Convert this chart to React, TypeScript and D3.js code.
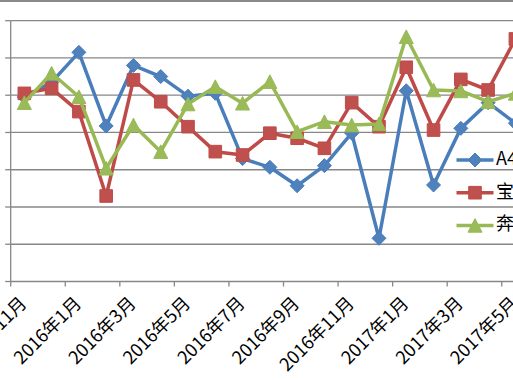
import React from "react";
import * as d3 from "d3";

const categories = [
  "2015年11月", "2015年12月", "2016年1月", "2016年2月", "2016年3月", "2016年4月",
  "2016年5月", "2016年6月", "2016年7月", "2016年8月", "2016年9月", "2016年10月",
  "2016年11月", "2016年12月", "2017年1月", "2017年2月", "2017年3月", "2017年4月",
  "2017年5月",
];

const seriesA4L = [9900, 10700, 12300, 8350, 11600, 11000, 9950, 10100, 6600, 6130, 5140, 6220, 7960, 2320, 10240, 5180, 8220, 9600, 8500];
const seriesBMW5 = [10100, 10370, 9120, 4590, 10820, 9650, 8310, 6970, 6790, 7960, 7690, 7150, 9600, 8310, 11500, 8130, 10850, 10280, 13020];
const seriesBenzE = [9600, 11180, 9920, 6080, 8400, 6970, 9530, 10460, 9570, 10730, 8040, 8580, 8400, 8460, 13140, 10280, 10230, 9650, 10100];

const seriesNames = ["A4L", "宝马5系", "奔驰E级"];
const yTicks = [0, 2000, 4000, 6000, 8000, 10000, 12000, 14000];

const W = 513;
const H = 380;

const lineColors = ["#4A7EBB", "#BE4B48", "#98B954"];
const fillColors = ["#4F81BD", "#C0504D", "#9BBB59"];
const markerTypes = ["diamond", "square", "triangle"];

function markerPath(type: string, cx: number, cy: number): string {
  if (type === "diamond") {
    const r = 7;
    return `M${cx},${cy - r}L${cx + r},${cy}L${cx},${cy + r}L${cx - r},${cy}Z`;
  }
  if (type === "square") {
    const s = 6.3;
    return `M${cx - s},${cy - s}L${cx + s},${cy - s}L${cx + s},${cy + s}L${cx - s},${cy + s}Z`;
  }
  const h = 6.8;
  const w = 7;
  return `M${cx},${cy - h}L${cx + w},${cy + h}L${cx - w},${cy + h}Z`;
}

export default function App() {
  const series = [seriesA4L, seriesBMW5, seriesBenzE];
  const step = 27.28;
  const x0 = 10.7;
  const x = d3
    .scaleBand<string>()
    .domain(categories)
    .range([x0, x0 + step * categories.length])
    .paddingInner(0)
    .paddingOuter(0);
  const cx = (c: string) => (x(c) as number) + x.bandwidth() / 2;
  const y = d3.scaleLinear().domain([0, 14000]).range([281.5, 20.7]);
  const plotRight = x0 + step * categories.length;

  const line = d3
    .line<number>()
    .x((_, i) => cx(categories[i]))
    .y((v) => y(v));

  const gridColor = "#878787";
  const font = "'Noto Sans CJK SC', 'Noto Sans', sans-serif";

  return (
    <svg
      width={W}
      height={H}
      style={{ position: "fixed", left: 0, top: 0, background: "#fff" }}
    >
      <rect x={0} y={0} width={W} height={H} fill="#fff" />
      {/* chart area border (top) */}
      <line x1={0} x2={W} y1={1} y2={1} stroke="#8a8a8a" strokeWidth={2.2} />

      {/* gridlines */}
      {yTicks.map((t) =>
        t === 0 ? null : (
          <line
            key={"g" + t}
            x1={x0}
            x2={plotRight}
            y1={y(t)}
            y2={y(t)}
            stroke={gridColor}
            strokeWidth={1.3}
          />
        )
      )}
      {/* y axis */}
      <line x1={x0} x2={x0} y1={y(14000)} y2={y(0)} stroke={gridColor} strokeWidth={1.3} />
      {yTicks.map((t) => (
        <g key={"yt" + t}>
          <line x1={x0 - 5.5} x2={x0} y1={y(t)} y2={y(t)} stroke={gridColor} strokeWidth={1.3} />
          <text
            x={x0 - 16}
            y={y(t)}
            textAnchor="end"
            dominantBaseline="middle"
            fontFamily={font}
            fontSize={18}
            fill="#000"
          >
            {t}
          </text>
        </g>
      ))}
      {/* x axis */}
      <line x1={x0} x2={plotRight} y1={y(0)} y2={y(0)} stroke={gridColor} strokeWidth={1.3} />
      {categories.map((c, i) =>
        i % 2 === 0 ? (
          <line
            key={"xt" + c}
            x1={x(c) as number}
            x2={x(c) as number}
            y1={y(0)}
            y2={y(0) + 5}
            stroke={gridColor}
            strokeWidth={1.3}
          />
        ) : null
      )}
      {categories.map((c, i) =>
        i % 2 === 0 ? (
          <text
            key={"xl" + c}
            transform={`translate(${cx(c)},${301}) rotate(-45)`}
            textAnchor="end"
            dominantBaseline="middle"
            fontFamily={font}
            fontSize={18}
            fill="#000"
          >
            {c}
          </text>
        ) : null
      )}

      {/* series */}
      {series.map((s, si) => (
        <g key={"s" + si}>
          <path
            d={line(s) as string}
            fill="none"
            stroke={lineColors[si]}
            strokeWidth={3.5}
            strokeLinejoin="round"
          />
          {s.map((v, i) => (
            <path
              key={i}
              d={markerPath(markerTypes[si], cx(categories[i]), y(v))}
              fill={fillColors[si]}
              stroke={lineColors[si]}
              strokeWidth={1}
            />
          ))}
        </g>
      ))}

      {/* legend */}
      {seriesNames.map((n, si) => {
        const ly = 160 + si * 32.7;
        return (
          <g key={"lg" + n}>
            <line x1={456.5} x2={493.5} y1={ly} y2={ly} stroke={lineColors[si]} strokeWidth={3.5} />
            <path d={markerPath(markerTypes[si], 475, ly)} fill={fillColors[si]} stroke={lineColors[si]} strokeWidth={1} />
            <text
              x={496}
              y={ly}
              dominantBaseline="middle"
              fontFamily={font}
              fontSize={18}
              fill="#000"
            >
              {n}
            </text>
          </g>
        );
      })}
    </svg>
  );
}
